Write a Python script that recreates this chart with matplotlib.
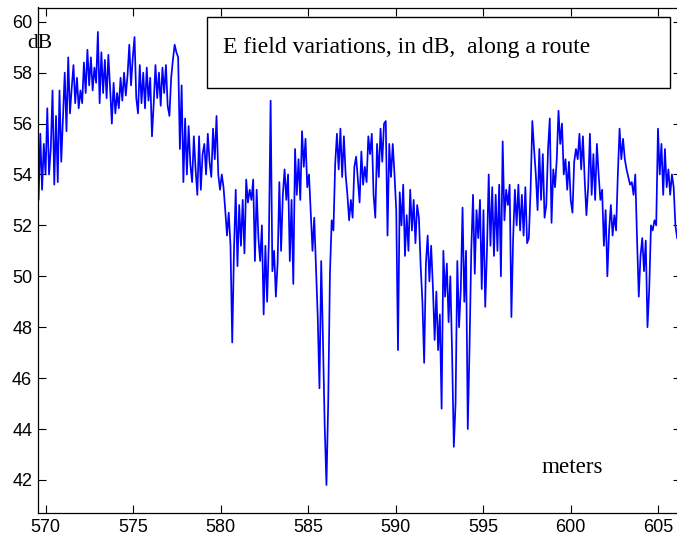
import numpy as np
import matplotlib.pyplot as plt
from matplotlib.patches import Rectangle

# E field (dB), about 10 samples per metre
field_570 = [52.2, 54.5, 53.0, 55.6,
             53.4, 55.2, 54.0, 56.6, 54.0, 55.0, 57.3, 53.6, 56.3, 53.7,
             57.3, 54.5, 56.2, 58.0, 55.7, 58.6, 56.4, 57.4, 58.3, 56.8,
             57.8, 56.6, 57.3, 56.8, 58.4, 57.2, 58.9, 57.5, 58.6, 57.3,
             58.2, 57.6, 59.6, 56.8, 58.8, 57.2, 58.5, 57.0, 58.7, 57.4,
             56.0, 57.6, 56.4, 57.2, 56.6, 57.8, 56.9, 58.0, 57.1, 57.9]
field_575 = [59.1, 57.5, 58.6, 59.4, 57.0, 56.4, 58.3, 56.8, 58.0, 56.6,
             58.2, 56.9, 57.8, 55.5, 56.8, 58.3, 57.0, 58.0, 56.7, 58.2,
             57.2, 58.3, 56.7, 56.3, 57.8, 58.5, 59.1, 58.8, 58.6, 55.0,
             57.5, 53.7, 56.2, 54.0, 55.9, 54.4, 53.7, 55.5, 54.2, 53.2,
             55.5, 53.4, 54.8, 55.2, 54.0, 55.6, 54.5, 53.9, 55.8, 54.6]
field_580 = [56.3, 54.0, 53.4, 54.0, 53.5, 52.6, 51.6, 52.5, 51.2, 47.4,
             51.0, 53.4, 50.4, 52.8, 51.2, 53.0, 50.9, 53.8, 52.9, 53.4,
             53.0, 53.8, 50.6, 53.4, 51.5, 50.6, 52.0, 48.5, 51.2, 49.0,
             51.4, 56.9, 50.2, 51.0, 49.2, 50.5, 53.7, 51.0, 53.2, 54.2,
             53.0, 54.0, 50.6, 53.0, 49.7, 55.0, 53.2, 54.6, 53.0, 55.7]
field_585 = [54.3, 55.4, 53.5, 54.0, 52.5, 51.0, 52.3, 50.4, 48.4, 45.6,
             50.6, 47.5, 44.1, 41.8, 45.0, 50.1, 52.2, 51.8, 54.4, 55.6,
             54.2, 55.8, 53.9, 55.5, 54.0, 53.2, 52.2, 53.0, 52.3, 54.3,
             54.7, 53.8, 52.9, 54.9, 53.6, 54.3, 53.7, 55.5, 54.8, 55.6,
             53.2, 52.3, 55.2, 53.9, 55.8, 54.5, 56.0, 56.1, 51.6, 55.2]
field_590 = [53.9, 55.2, 54.0, 52.6, 47.1, 53.3, 52.0, 53.6, 50.8, 52.4,
             51.0, 53.4, 51.8, 53.0, 51.3, 52.8, 52.3, 50.4, 49.0, 46.6,
             50.5, 51.6, 49.8, 51.2, 49.6, 47.5, 49.4, 47.1, 48.5, 44.8,
             51.0, 49.2, 50.5, 48.2, 50.0, 47.0, 43.3, 45.0, 50.6, 48.0,
             49.5, 52.7, 49.0, 51.0, 44.0, 47.2, 51.0, 53.2, 50.1, 52.6]
field_595 = [51.5, 53.0, 49.5, 52.6, 48.8, 51.0, 54.0, 51.2, 53.5, 50.8,
             53.2, 51.0, 53.6, 50.0, 55.3, 52.2, 53.4, 52.8, 53.6, 48.4,
             51.5, 53.4, 52.0, 53.6, 51.8, 53.2, 51.6, 53.5, 51.3, 51.5,
             53.4, 56.1, 55.0, 54.0, 52.6, 55.0, 53.0, 54.8, 52.3, 52.8,
             55.0, 56.2, 52.1, 54.2, 53.5, 54.6, 56.5, 55.2, 56.0, 54.0]
field_600 = [54.6, 53.4, 54.5, 53.0, 52.5, 54.5, 55.0, 54.6, 55.6, 54.2,
             55.5, 53.8, 52.4, 53.5, 55.6, 53.2, 54.8, 53.0, 55.2, 54.0,
             53.0, 53.4, 51.2, 52.6, 50.0, 51.8, 52.8, 51.6, 52.4, 51.8,
             54.0, 55.8, 54.6, 55.4, 54.6, 54.2, 53.9, 53.6, 53.7, 53.2,
             54.0, 51.5, 49.2, 50.8, 51.5, 50.2, 51.4, 48.0, 49.5, 52.0]
field_605 = [51.8, 52.2, 52.0, 55.8, 54.0, 55.2, 53.2, 55.0, 53.5, 54.2,
             53.2, 54.0, 53.5, 52.0, 51.5]

field_db = field_570 + field_575 + field_580 + field_585 + field_590 + field_595 + field_600 + field_605

# sampling grid of the route (metres)
dist_start, dist_end = 569.39, 606.08
meters = np.linspace(dist_start, dist_end, len(field_db))

x_ticks = [570, 575, 580, 585, 590, 595, 600, 605]
y_ticks = [42, 44, 46, 48, 50, 52, 54, 56, 58, 60]

W, H = 677, 541
fig = plt.figure(figsize=(W / 100, H / 100), dpi=100)
ax = fig.add_axes([37.7 / W, 1 - 513 / H, (681 - 37.7) / W, (513 - 7.5) / H])

ax.plot(meters, field_db, color='blue', lw=1.25)

ax.set_xlim(569.54, 606.3)
ax.set_ylim(40.70, 60.56)
ax.set_xticks(x_ticks)
ax.set_yticks(y_ticks)
ax.tick_params(direction='in', top=True, right=True, length=6, width=0.8,
               labelsize=13, pad=4)
for lab in ax.get_xticklabels() + ax.get_yticklabels():
    lab.set_family('Liberation Sans')
for s in ax.spines.values():
    s.set_linewidth(0.9)

serif = 'Liberation Serif'
# text box
fig.add_artist(Rectangle((207.3 / W, 1 - 88.3 / H), (670 - 207.3) / W, 71 / H,
                         transform=fig.transFigure, facecolor='white',
                         edgecolor='black', lw=1.0, zorder=5))
fig.text(222.7 / W, 1 - 53.3 / H, 'E field variations, in dB,  along a route',
         fontsize=17, family=serif, va='baseline', zorder=6)
fig.text(27 / W, 1 - 48 / H, 'dB', fontsize=15.5, family=serif, va='baseline')
fig.text(541.7 / W, 1 - 472.7 / H, 'meters', fontsize=16.6, family=serif, va='baseline')

fig.savefig('out.png', dpi=100)
